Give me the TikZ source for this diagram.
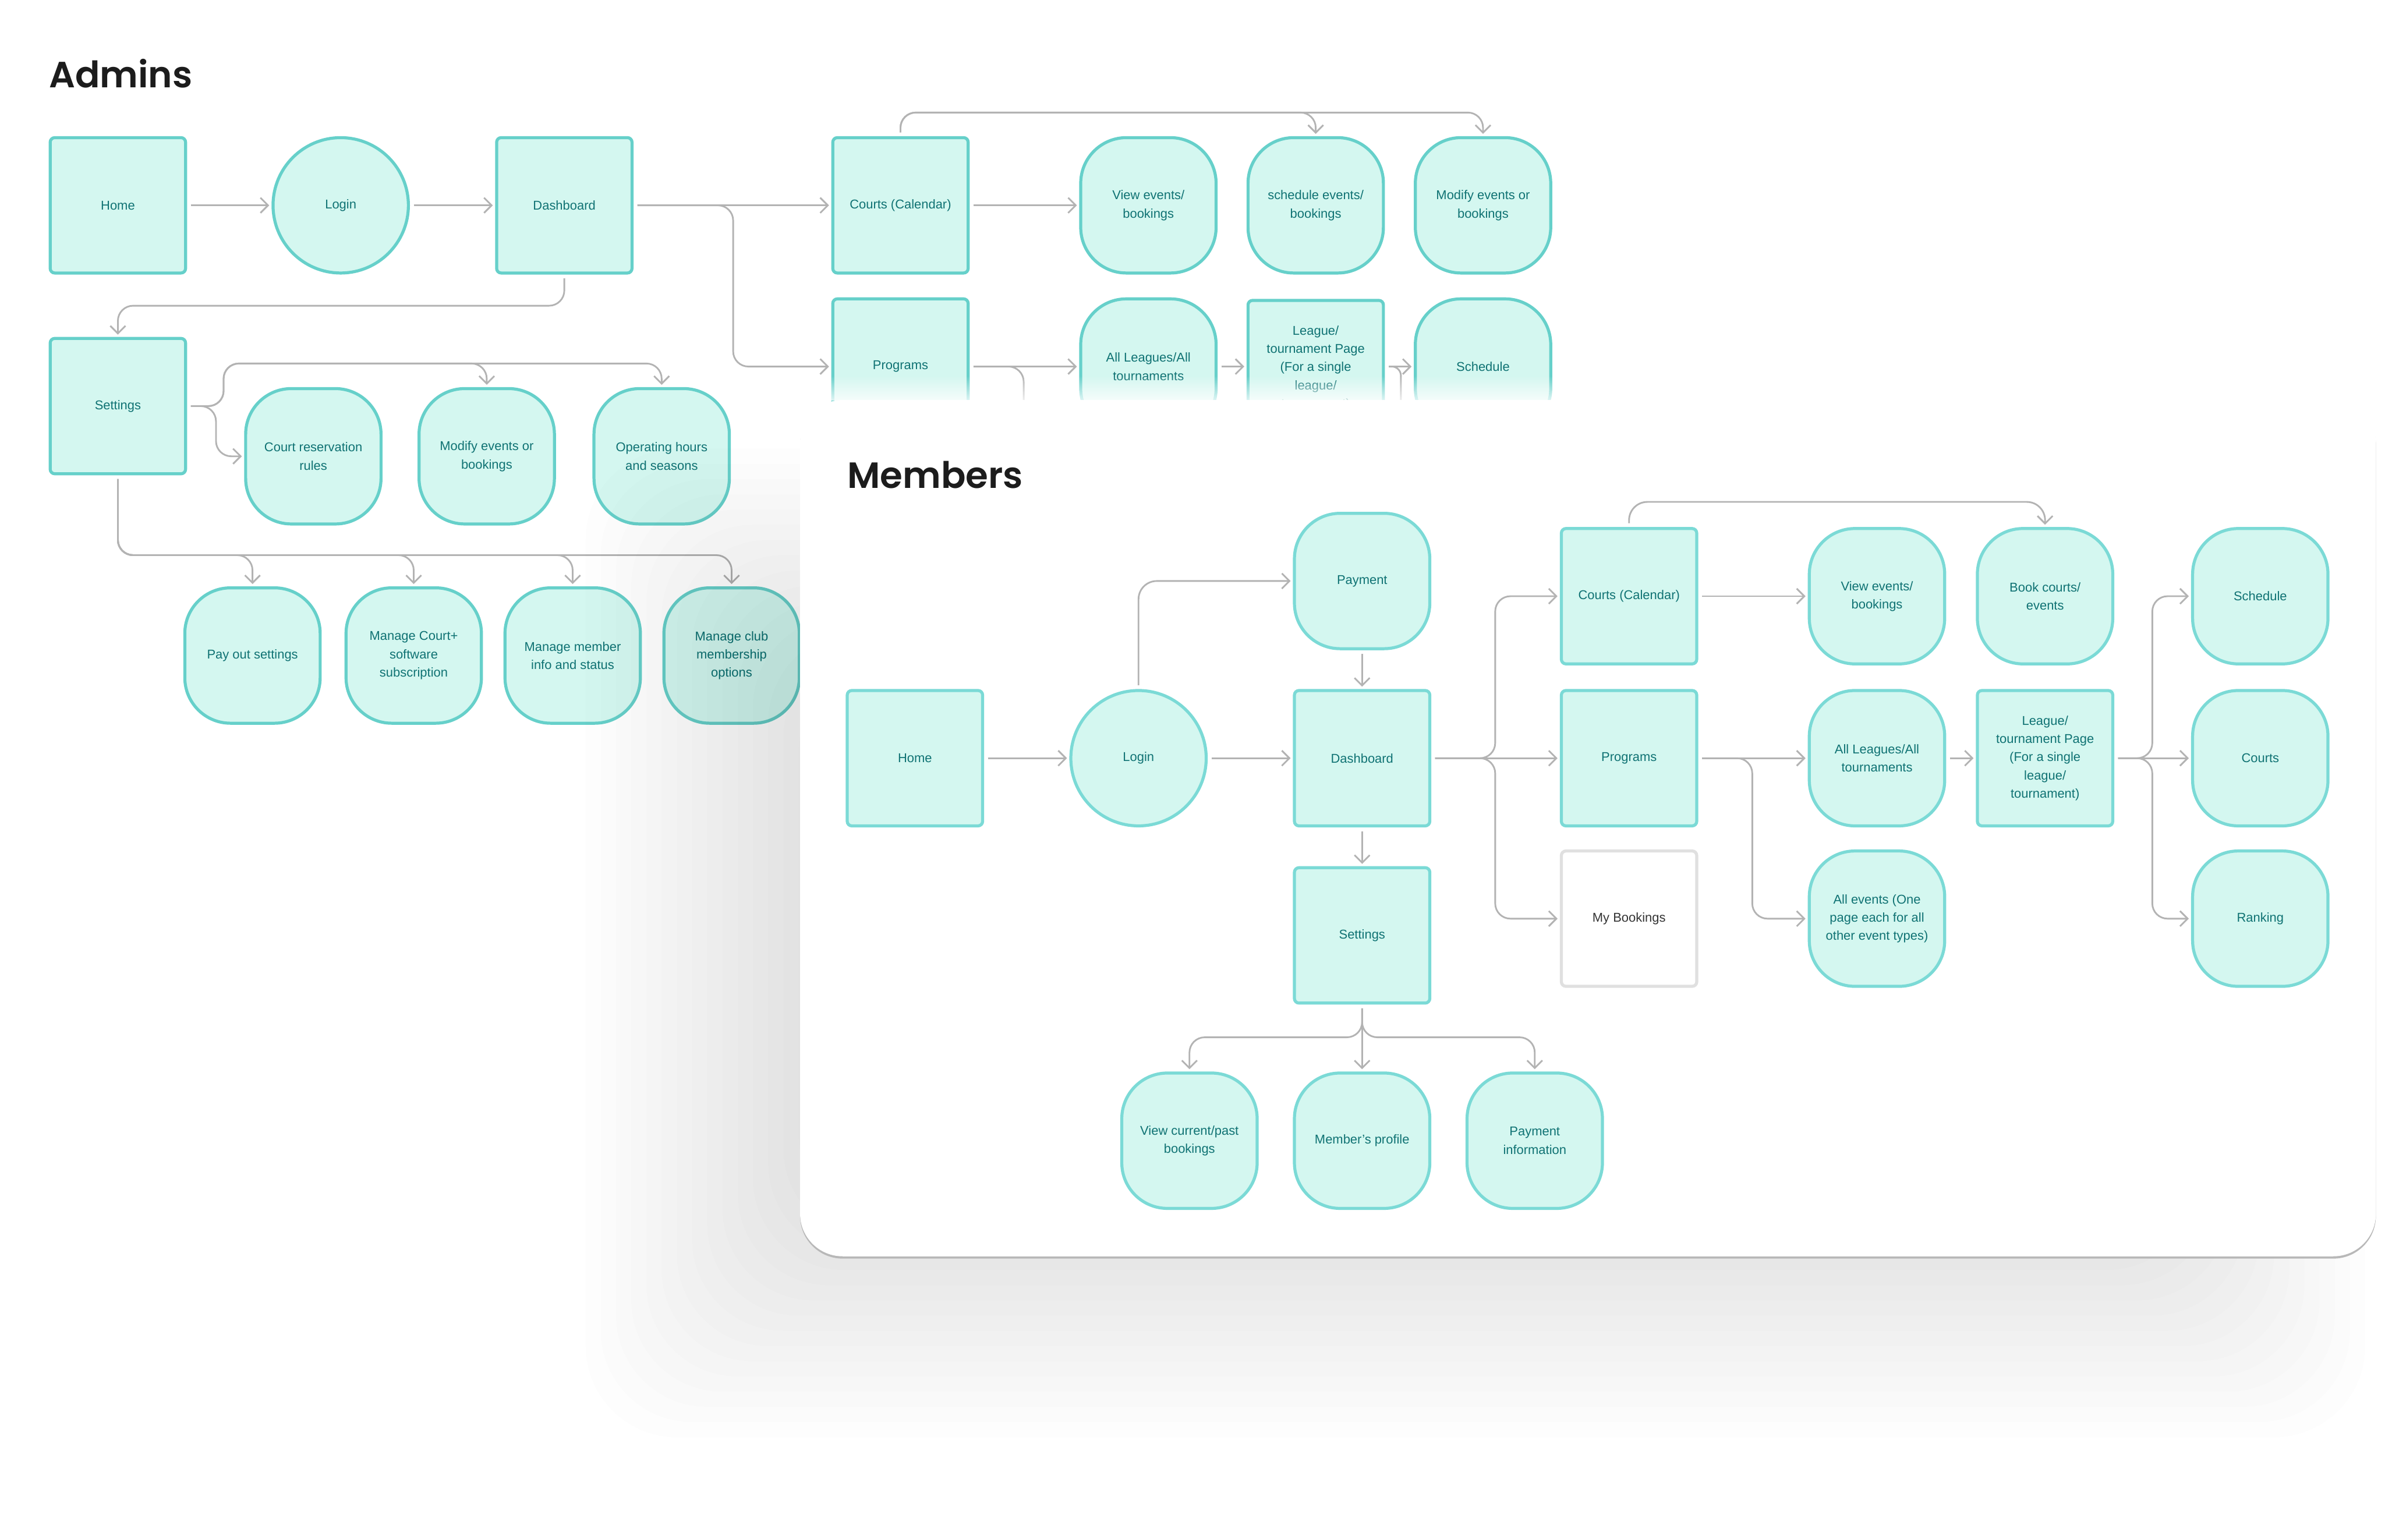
\documentclass[tikz,border=0pt]{standalone}
\usepackage{fontspec}
\setmainfont{Liberation Sans}
\newfontfamily\titlefont{Poppins}[UprightFont=* SemiBold]
\usepackage{xcolor}
\definecolor{mint}{HTML}{D4F7F0}
\definecolor{tealline}{HTML}{66D0CA}
\definecolor{tealsoft}{HTML}{7BDAD6}
\definecolor{tealtext}{HTML}{0F7273}
\definecolor{linkgray}{HTML}{B3B3B3}
\definecolor{ink}{HTML}{1C1C1C}
\usetikzlibrary{arrows.meta, positioning, fadings}

\begin{document}
\begin{tikzpicture}[x=1pt, y=-1pt,
  box/.style={draw=tealline, fill=mint, line width=2pt, rounded corners=3pt,
    minimum width=89pt, minimum height=89pt, inner sep=2pt,
    font=\fontsize{8.4}{12}\selectfont, text=tealtext, align=center},
  pill/.style={box, rounded corners=30pt},
  roundel/.style={box, circle, minimum size=89pt},
  link/.style={draw=linkgray, line width=1.1pt, shorten <=2.5pt},
  flow/.style={link, -{Straight Barb[length=5pt, width=10pt]}, shorten >=1.5pt},
  heading/.style={font=\titlefont\fontsize{24}{29}\selectfont,
    text=ink, anchor=base west, inner sep=0pt}]

  \useasboundingbox[fill=white] (0,0) rectangle (1568,1012.4);

  % Admins
  \node[heading] (adminsTitle) at (32,57.6) {Admins};

  \node[box] (aHome) at (77.5,135) {Home};
  \node[roundel] (aLogin) at (224,135) {Login};
  \node[box] (aDash) at (371,135) {Dashboard};
  \node[box] (aCourts) at (592,135) {Courts (Calendar)};
  \node[pill] (aView) at (755,135) {View events/\\bookings};
  \node[pill] (aSched) at (865,135) {schedule events/\\bookings};
  \node[pill] (aModify) at (975,135) {Modify events or\\bookings};

  \node[box] (aProg) at (592,241) {Programs};
  \node[pill] (aLeagues) at (755,241) {All Leagues/All\\tournaments};
  \node[box] (aLeague) at (865,242) {League/\\tournament Page\\(For a single\\league/\\tournament)};
  \node[pill] (aSchedule) at (975,241) {Schedule};

  \node[box] (aSet) at (77.5,267) {Settings};
  \node[pill] (aRules) at (206,300) {Court reservation\\rules};
  \node[pill] (aModEv) at (320,300) {Modify events or\\bookings};
  \node[pill] (aHours) at (435,300) {Operating hours\\and seasons};

  \node[pill] (aPayout) at (166,431) {Pay out settings};
  \node[pill] (aSoft) at (272,431) {Manage Court+\\software\\subscription};
  \node[pill] (aMember) at (376.5,431) {Manage member\\info and status};
  \node[pill] (aClub) at (481,431) {Manage club\\membership\\options};

  \coordinate (aProgDown) at (673,300);
  \coordinate (aLeagueDown) at (921,300);

  \draw[flow] (aHome) -- (aLogin);
  \draw[flow] (aLogin) -- (aDash);
  \draw[flow] (aDash) -- (aCourts);
  \draw[flow, rounded corners=10pt] (aDash.east) -- (482,135) -- (482,241) -- (aProg.west);
  \draw[flow, rounded corners=10pt] (aDash.south) -- (371,201) -- (77.5,201) -- (aSet.north);
  \draw[flow] (aCourts) -- (aView);
  \draw[flow, rounded corners=10pt] (aCourts.north) -- (592,74) -- (865,74) -- (aSched.north);
  \draw[flow, rounded corners=10pt] (aCourts.north) -- (592,74) -- (975,74) -- (aModify.north);
  \draw[flow] (aProg) -- (aLeagues);
  \draw[link, rounded corners=10pt] (aProg.east) -- (673,241) -- (aProgDown);
  \draw[flow] (aLeagues) -- (aLeague.west |- aLeagues);
  \draw[flow] (aLeague.east |- aSchedule) -- (aSchedule);
  \draw[link, rounded corners=6pt] (aLeague.east |- aSchedule) -- (921,241) -- (aLeagueDown);

  \draw[flow, rounded corners=10pt] (aSet.east) -- (142,267) -- (142,300) -- (aRules.west);
  \draw[flow, rounded corners=10pt] (aSet.east) -- (147,267) -- (147,239) -- (320,239) -- (aModEv.north);
  \draw[flow, rounded corners=10pt] (aSet.east) -- (147,267) -- (147,239) -- (435,239) -- (aHours.north);
  \foreach \kid/\kx in {aPayout/166, aSoft/272, aMember/376.5, aClub/481}
    \draw[flow, rounded corners=10pt] (aSet.south) -- (77.5,365) -- (\kx,365) -- (\kid.north);

  % white fade over the cut-off row
  \fill[white, path fading=north, opacity=0.8] (520,247) rectangle (1052,263.5);

  % soft shadow under the members card
  \foreach \k in {0,...,17}{
    \pgfmathsetmacro\xa{385+10*\k}
    \pgfmathsetmacro\ya{295+10*\k}
    \pgfmathsetmacro\xb{1555-10*\k}
    \pgfmathsetmacro\yb{945-10*\k}
    \fill[black, opacity=0.006, rounded corners=60pt] (\xa,\ya) rectangle (\xb,\yb);
  }
  \fill[black!28, rounded corners=28pt] (526,264.5) rectangle (1562,827.5);
  \fill[white, rounded corners=28pt] (526,263) rectangle (1562,826);

  % Members
  \node[heading] (membersTitle) at (557,320.8) {Members};

  \begin{scope}[box/.append style={draw=tealsoft}]
    \node[box] (mHome) at (601.5,498.5) {Home};
    \node[roundel] (mLogin) at (748.5,498.5) {Login};
    \node[pill] (mPay) at (895.5,382) {Payment};
    \node[box] (mDash) at (895.5,498.5) {Dashboard};
    \node[box] (mSet) at (895.5,615) {Settings};

    \node[box] (mCourts) at (1071,392) {Courts (Calendar)};
    \node[box] (mProg) at (1071,498.5) {Programs};
    \node[box, draw=black!12, fill=white, text=black!80] (mBook) at (1071,604) {My Bookings};

    \node[pill] (mView) at (1234,392) {View events/\\bookings};
    \node[pill] (mBookC) at (1344.5,392) {Book courts/\\events};
    \node[pill] (mLeagues) at (1234,498.5) {All Leagues/All\\tournaments};
    \node[box] (mLeague) at (1344.5,498.5) {League/\\tournament Page\\(For a single\\league/\\tournament)};
    \node[pill] (mAll) at (1234,604) {All events (One\\page each for all\\other event types)};

    \node[pill] (mSchedule) at (1486,392) {Schedule};
    \node[pill] (mCourt) at (1486,498.5) {Courts};
    \node[pill] (mRank) at (1486,604) {Ranking};

    \node[pill] (mPast) at (782,750) {View current/past\\bookings};
    \node[pill] (mProfile) at (895.5,750) {Member’s profile};
    \node[pill] (mPayInfo) at (1009,750) {Payment\\information};
  \end{scope}

  \draw[flow] (mHome) -- (mLogin);
  \draw[flow] (mLogin) -- (mDash);
  \draw[flow, rounded corners=12pt] (mLogin.north) -- (748.5,382) -- (mPay.west);
  \draw[flow] (mPay) -- (mDash);
  \draw[flow] (mDash) -- (mSet);
  \draw[flow, rounded corners=10pt] (mDash.east) -- (983,498.5) -- (983,392) -- (mCourts.west);
  \draw[flow] (mDash) -- (mProg);
  \draw[flow, rounded corners=10pt] (mDash.east) -- (983,498.5) -- (983,604) -- (mBook.west);
  \draw[flow] (mCourts) -- (mView);
  \draw[flow, rounded corners=12pt] (mCourts.north) -- (1071,330) -- (1344.5,330) -- (mBookC.north);
  \draw[flow] (mProg) -- (mLeagues);
  \draw[flow, rounded corners=10pt] (mProg.east) -- (1152,498.5) -- (1152,604) -- (mAll.west);
  \draw[flow] (mLeagues) -- (mLeague);
  \draw[flow, rounded corners=10pt] (mLeague.east) -- (1415,498.5) -- (1415,392) -- (mSchedule.west);
  \draw[flow] (mLeague) -- (mCourt);
  \draw[flow, rounded corners=10pt] (mLeague.east) -- (1415,498.5) -- (1415,604) -- (mRank.west);
  \draw[flow, rounded corners=10pt] (mSet.south) -- (895.5,682) -- (782,682) -- (mPast.north);
  \draw[flow] (mSet) -- (mProfile);
  \draw[flow, rounded corners=10pt] (mSet.south) -- (895.5,682) -- (1009,682) -- (mPayInfo.north);
\end{tikzpicture}
\end{document}
